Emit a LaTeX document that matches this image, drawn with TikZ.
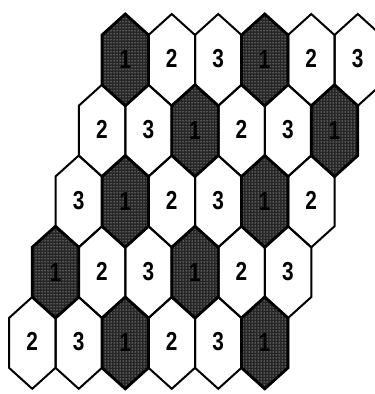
\documentclass[tikz,border=0pt]{standalone}
\usepackage{graphicx}
\usepackage{fontspec}
\setmainfont{Liberation Sans}
\usetikzlibrary{patterns}
\begin{document}
\begin{tikzpicture}[x=1pt,y=-1pt,
  hexline/.style={line width=2pt, line join=miter},
  shadeline/.style={line width=2.8pt, line join=miter},
  digit/.style={font=\fontsize{26}{26}\selectfont\bfseries, inner sep=0pt, text=black}]
\useasboundingbox (0,0) rectangle (375,394);
\clip (0,0) rectangle (375,394);
% shaded cells
\foreach \r in {0,...,4}{
 \foreach \c in {0,...,5}{
  \pgfmathsetmacro{\cx}{125.25 - 23.25*\r + 46.5*\c}
  \pgfmathsetmacro{\cy}{59.9 + 70.75*\r}
  \pgfmathtruncatemacro{\k}{mod(\c+\r,3)}
  \ifnum\k=0
   \fill[black!85] (\cx,\cy-45.9) -- (\cx+23.25,\cy-24.9) -- (\cx+23.25,\cy+24.9) -- (\cx,\cy+45.9) -- (\cx-23.25,\cy+24.9) -- (\cx-23.25,\cy-24.9) -- cycle;
   \fill[pattern=dots, pattern color=white] (\cx,\cy-45.9) -- (\cx+23.25,\cy-24.9) -- (\cx+23.25,\cy+24.9) -- (\cx,\cy+45.9) -- (\cx-23.25,\cy+24.9) -- (\cx-23.25,\cy-24.9) -- cycle;
  \fi
 }}
% outlines
\foreach \r in {0,...,4}{
 \foreach \c in {0,...,5}{
  \pgfmathsetmacro{\cx}{125.25 - 23.25*\r + 46.5*\c}
  \pgfmathsetmacro{\cy}{59.9 + 70.75*\r}
  \draw[hexline] (\cx,\cy-45.9) -- (\cx+23.25,\cy-24.9) -- (\cx+23.25,\cy+24.9) -- (\cx,\cy+45.9) -- (\cx-23.25,\cy+24.9) -- (\cx-23.25,\cy-24.9) -- cycle;
 }}
% shaded outlines and labels
\foreach \r in {0,...,4}{
 \foreach \c in {0,...,5}{
  \pgfmathsetmacro{\cx}{125.25 - 23.25*\r + 46.5*\c}
  \pgfmathsetmacro{\cy}{59.9 + 70.75*\r}
  \pgfmathtruncatemacro{\k}{mod(\c+\r,3)}
  \ifnum\k=0
   \draw[shadeline] (\cx,\cy-45.9) -- (\cx+23.25,\cy-24.9) -- (\cx+23.25,\cy+24.9) -- (\cx,\cy+45.9) -- (\cx-23.25,\cy+24.9) -- (\cx-23.25,\cy-24.9) -- cycle;
   \node[digit] (n\r\c) at (\cx,\cy) {\scalebox{0.8}[1]{1}};
  \else
   \pgfmathtruncatemacro{\lab}{\k+1}
   \node[digit] (n\r\c) at (\cx,\cy-1) {\scalebox{0.8}[1]{\lab}};
  \fi
 }}
\end{tikzpicture}
\end{document}
